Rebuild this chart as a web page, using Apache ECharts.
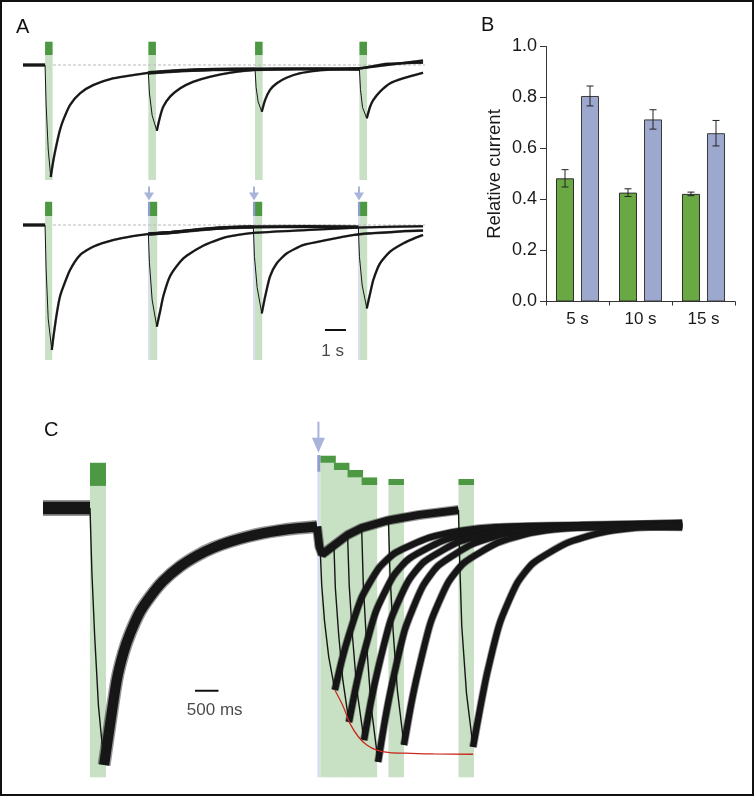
<!DOCTYPE html>
<html>
<head>
<meta charset="utf-8">
<script src="https://cdn.jsdelivr.net/npm/echarts@6/dist/echarts.min.js"></script>
<style>
html, body { margin: 0; padding: 0; background: #fff; }
#main { width: 754px; height: 796px; }
</style>
</head>
<body>
<div id="main"></div>
<script>
// ---------- panel A (time in s, current relative to first peak) ----------
var aTopPulseOn = [0, 4.92, 10, 14.97]
var aTopPulseDur = 0.36
var aTopShared = [[-1.05, 0], [0, 0], [0.05, -0.35], [0.15, -0.75], [0.27, -1.0], [0.40, -0.848], [0.56, -0.70], [0.71, -0.58], [0.87, -0.49], [1.19, -0.357], [1.67, -0.253], [2.30, -0.179], [3.25, -0.119], [4.21, -0.089], [4.92, -0.07]]
var aTop5 = [[4.92, -0.07], [4.97, -0.25], [5.1, -0.45], [5.32, -0.587], [5.48, -0.46], [5.63, -0.372], [5.95, -0.283], [6.43, -0.208], [7.06, -0.149], [7.86, -0.104], [8.81, -0.069], [10.0, -0.045], [12.0, -0.035], [14.97, -0.03], [16.3, 0.0], [18.0, 0.04]]
var aTop10 = [[4.92, -0.07], [6.5, -0.05], [8.0, -0.04], [10.0, -0.038], [10.05, -0.2], [10.15, -0.33], [10.32, -0.417], [10.48, -0.3125], [10.71, -0.223], [11.03, -0.164], [11.51, -0.113], [12.14, -0.074], [12.94, -0.051], [13.9, -0.038], [15.0, -0.03], [16.27, 0.01], [18.0, 0.02]]
var aTop15 = [[4.92, -0.07], [6.5, -0.05], [8.0, -0.04], [10.0, -0.036], [12.0, -0.034], [14.97, -0.038], [15.02, -0.22], [15.12, -0.38], [15.32, -0.476], [15.48, -0.372], [15.63, -0.3125], [15.95, -0.238], [16.43, -0.164], [17.06, -0.119], [18.0, -0.069]]

var aBotPulseOn = [0, 5, 10, 15]
var aBotPulseDur = 0.34
var aBotPrepulseOn = [4.9, 9.9, 14.9]
var aBotPrepulseDur = 0.1
var aBotShared = [[-1.05, 0], [0, 0], [0.05, -0.35], [0.15, -0.75], [0.32, -1.0], [0.40, -0.893], [0.56, -0.707], [0.71, -0.573], [0.87, -0.493], [1.19, -0.36], [1.67, -0.24], [2.30, -0.173], [3.25, -0.12], [4.21, -0.088], [4.92, -0.072]]
var aBot5 = [[4.92, -0.072], [4.97, -0.3], [5.1, -0.6], [5.32, -0.813], [5.48, -0.69], [5.63, -0.57], [5.95, -0.41], [6.43, -0.295], [6.75, -0.245], [7.54, -0.165], [8.33, -0.112], [8.81, -0.09], [10.0, -0.062], [12.5, -0.04], [15.0, -0.02], [18.0, -0.01]]
var aBot10 = [[4.92, -0.072], [6.0, -0.06], [7.5, -0.035], [8.81, -0.02], [9.92, -0.015], [9.97, -0.25], [10.1, -0.5], [10.32, -0.707], [10.48, -0.573], [10.71, -0.413], [11.03, -0.307], [11.51, -0.227], [12.3, -0.16], [13.41, -0.12], [14.68, -0.08], [15.48, -0.067], [17.86, -0.045], [18.0, -0.045]]
var aBot15 = [[4.92, -0.072], [6.0, -0.06], [7.5, -0.035], [8.81, -0.02], [10.0, -0.015], [12.5, -0.012], [14.92, -0.015], [14.97, -0.25], [15.1, -0.48], [15.32, -0.667], [15.48, -0.547], [15.63, -0.44], [15.95, -0.307], [16.43, -0.213], [17.06, -0.147], [17.7, -0.098], [18.0, -0.08]]

// ---------- panel B ----------
var bCategories = ['5 s', '10 s', '15 s']
var bGreen = [0.483, 0.427, 0.422]
var bGreenErr = [0.034, 0.015, 0.007]
var bBlue = [0.806, 0.714, 0.66]
var bBlueErr = [0.039, 0.038, 0.05]
var bTicks = [0, 0.2, 0.4, 0.6, 0.8, 1.0]

// ---------- panel C ----------
var cPulseOn = [0, 4.90, 5.19, 5.48, 5.78, 6.35, 7.84]
var cPulseDur = 0.33
var cPrepulseOn = 4.836
var cPrepulseDur = 0.064
var cShared = [[-1.0, 0], [0, 0], [0.04, -0.25], [0.1, -0.5], [0.18, -0.77], [0.30, -1.0], [0.43, -0.837], [0.57, -0.669], [0.71, -0.564], [0.85, -0.49], [1.06, -0.405], [1.28, -0.345], [1.55, -0.285], [1.91, -0.228], [2.28, -0.185], [2.62, -0.155], [2.98, -0.131], [3.34, -0.112], [3.68, -0.098], [4.04, -0.087], [4.40, -0.079], [4.83, -0.072]]
var cPre = [[4.83, -0.072], [4.88, -0.15], [4.94, -0.18], [5.19, -0.145], [5.48, -0.105], [5.78, -0.078], [6.35, -0.048], [7.0, -0.027], [7.84, -0.008]]
var cA = [[4.90, -0.17], [4.93, -0.30], [4.99, -0.44], [5.08, -0.58], [5.21, -0.708], [5.36, -0.591], [5.51, -0.494], [5.78, -0.348], [6.15, -0.233], [6.49, -0.175], [7.21, -0.116], [7.91, -0.088], [8.61, -0.074], [10.5, -0.066], [12.6, -0.06]]
var cB = [[5.19, -0.145], [5.22, -0.31], [5.29, -0.49], [5.38, -0.67], [5.51, -0.833], [5.66, -0.694], [5.81, -0.578], [6.08, -0.404], [6.45, -0.266], [6.79, -0.197], [7.51, -0.127], [8.21, -0.093], [8.91, -0.076], [10.5, -0.07], [12.6, -0.072]]
var cC = [[5.48, -0.105], [5.515, -0.30], [5.585, -0.50], [5.68, -0.71], [5.83, -0.903], [5.98, -0.751], [6.13, -0.625], [6.40, -0.435], [6.77, -0.285], [7.11, -0.209], [7.83, -0.133], [8.53, -0.096], [9.23, -0.078], [11.0, -0.066], [12.6, -0.058]]
var cD = [[5.78, -0.078], [5.815, -0.30], [5.885, -0.53], [5.98, -0.77], [6.13, -0.988], [6.28, -0.821], [6.43, -0.682], [6.70, -0.473], [7.07, -0.308], [7.41, -0.224], [8.13, -0.141], [8.83, -0.100], [9.53, -0.081], [11.0, -0.072], [12.6, -0.075]]
var cE = [[6.35, -0.048], [6.383, -0.26], [6.45, -0.48], [6.54, -0.71], [6.68, -0.922], [6.83, -0.767], [6.98, -0.638], [7.25, -0.444], [7.62, -0.290], [7.96, -0.213], [8.68, -0.135], [9.38, -0.097], [10.08, -0.08], [11.5, -0.07], [12.6, -0.064]]
var cF = [[7.84, -0.008], [7.865, -0.2], [7.91, -0.46], [8.01, -0.72], [8.15, -0.93], [8.30, -0.78], [8.45, -0.642], [8.72, -0.447], [9.09, -0.292], [9.43, -0.214], [10.15, -0.136], [10.85, -0.097], [11.55, -0.078], [12.6, -0.068]]
var cFit = [[5.21, -0.708], [5.39, -0.773], [5.53, -0.838], [5.71, -0.890], [5.89, -0.922], [6.10, -0.942], [6.38, -0.952], [6.70, -0.954], [7.31, -0.957], [8.15, -0.958]]

// scale bars: [start, length] in s, with their texts
var aScaleBar = [13.33, 1]
var aScaleText = '1 s'
var cScaleBar = [2.234, 0.5]
var cScaleText = '500 ms'

// ---------- layout / style ----------
var FONT = 'Liberation Sans, Arial, sans-serif'
var INK = '#161616'
var HALO = 'rgba(20,20,20,0.45)'
var LIGHT_GREEN = '#c8e0c4'
var DARK_GREEN = '#4d9843'
var LIGHT_BLUE = '#d9dfef'
var DARK_BLUE = '#8e9cd0'
var ARROW = '#93a1d2'

var myChart = echarts.init(document.getElementById('main'))

function rectItem(params, api) {
  var a = api.coord([api.value(0), api.value(3)])
  var b = api.coord([api.value(1), api.value(2)])
  return {
    type: 'rect',
    shape: { x: a[0], y: a[1], width: b[0] - a[0], height: b[1] - a[1] },
    style: { fill: api.visual('color') }
  }
}

function rects(rows, g, color) {
  return {
    type: 'custom', xAxisIndex: g, yAxisIndex: g, data: rows,
    renderItem: rectItem, itemStyle: { color: color },
    encode: { x: [0, 1], y: [2, 3] }, clip: false, silent: true, z: 1
  }
}

function line(data, g, width, color, z, smooth) {
  return {
    type: 'line', xAxisIndex: g, yAxisIndex: g, data: data,
    symbol: 'none', silent: true, z: z || 3,
    smooth: smooth || false,
    lineStyle: { width: width, color: color || INK }
  }
}

// noisy band: soft edge + dark core
function band(data, g, w, smooth) {
  var s = smooth === undefined ? 0.2 : smooth
  return [line(data, g, w, HALO, 3, s), line(data, g, Math.max(1.3, w * 0.78), INK, 3, s)]
}

// split a trace into baseline part, falling part and recovery part
function trace(data, onset, g, w) {
  var k = data.findIndex(function (p) { return p[0] >= onset - 0.03 })
  var m = k
  for (var i = k; i < data.length; i++) {
    if (data[i][1] < data[m][1]) m = i
  }
  var out = []
  if (k > 0) out = out.concat(band(data.slice(0, k + 1), g, w[0]))
  out.push(line(data.slice(k, m + 1), g, w[1]))
  out = out.concat(band(data.slice(m), g, w[2]))
  return out
}

var series = []

// stimulus bars, panel A top
series.push(rects(aTopPulseOn.map(function (t) { return [t, t + aTopPulseDur, -1.027, 0.089] }), 0, LIGHT_GREEN))
series.push(rects(aTopPulseOn.map(function (t) { return [t, t + aTopPulseDur, 0.089, 0.208] }), 0, DARK_GREEN))
// panel A bottom
series.push(rects(aBotPulseOn.map(function (t) { return [t, t + aBotPulseDur, -1.08, 0.072] }), 1, LIGHT_GREEN))
series.push(rects(aBotPrepulseOn.map(function (t) { return [t, t + aBotPrepulseDur, -1.08, 0.072] }), 1, LIGHT_BLUE))
series.push(rects(aBotPulseOn.map(function (t) { return [t, t + aBotPulseDur, 0.072, 0.186] }), 1, DARK_GREEN))
series.push(rects(aBotPrepulseOn.map(function (t) { return [t, t + aBotPrepulseDur, 0.072, 0.186] }), 1, DARK_BLUE))
// panel C
var cBarTop = [0.176, 0.2035, 0.176, 0.148, 0.119, 0.113, 0.113]
var cBarBot = [0.086, 0.176, 0.148, 0.119, 0.0895, 0.0895, 0.0895]
series.push(rects(cPulseOn.map(function (t, i) { return [t, t + (i === 0 ? 0.34 : cPulseDur), -1.048, cBarBot[i]] }), 3, LIGHT_GREEN))
series.push(rects([[cPrepulseOn, cPrepulseOn + cPrepulseDur, -1.048, 0.141]], 3, LIGHT_BLUE))
series.push(rects(cPulseOn.map(function (t, i) { return [t, t + (i === 0 ? 0.34 : cPulseDur), cBarBot[i], cBarTop[i]] }), 3, DARK_GREEN))
series.push(rects([[cPrepulseOn, cPrepulseOn + cPrepulseDur, 0.141, 0.206]], 3, DARK_BLUE))

// dashed baselines in A
;[0, 1].forEach(function (g) {
  series.push({
    type: 'line', xAxisIndex: g, yAxisIndex: g, data: [[0.38, 0], [18.1, 0]],
    symbol: 'none', silent: true, z: 2,
    lineStyle: { width: 1, color: '#b9b9b9', type: [3, 2] }
  })
})

// traces A top
var wA = [3.6, 1, 2.6]
series = series.concat(trace(aTopShared, 0, 0, wA))
series = series.concat(trace(aTop5, aTopPulseOn[1], 0, wA))
series = series.concat(trace(aTop10, aTopPulseOn[2], 0, wA))
series = series.concat(trace(aTop15, aTopPulseOn[3], 0, wA))
// traces A bottom
series = series.concat(trace(aBotShared, 0, 1, wA))
series = series.concat(trace(aBot5, aBotPrepulseOn[0], 1, wA))
series = series.concat(trace(aBot10, aBotPrepulseOn[1], 1, wA))
series = series.concat(trace(aBot15, aBotPrepulseOn[2], 1, wA))
// traces C
series = series.concat(trace(cShared, 0, 3, [16, 1.4, 13]))
series = series.concat(band(cPre, 3, 10, false))
;[cA, cB, cC, cD, cE, cF].forEach(function (d, i) {
  series = series.concat(trace(d, cPulseOn[i + 1], 3, [8, 1.4, 8]))
})
series.push(line(cFit, 3, 1.3, '#c8281e', 5, 0.3))

// arrows
series.push({
  type: 'scatter', xAxisIndex: 1, yAxisIndex: 1, silent: true, z: 6,
  data: aBotPrepulseOn.map(function (t) { return [t + aBotPrepulseDur / 2, 0.252] }),
  symbol: 'path://M4,0L6,0L6,6L10,6L5,14L0,6L4,6Z', symbolSize: [10, 14],
  itemStyle: { color: ARROW }
})
series.push({
  type: 'scatter', xAxisIndex: 3, yAxisIndex: 3, silent: true, z: 6,
  data: [[cPrepulseOn + 0.024, 0.2755]],
  symbol: 'path://M5.5,0L7.5,0L7.5,16L13,16L6.5,31L0,16L5.5,16Z', symbolSize: [13, 31],
  itemStyle: { color: ARROW }
})

// scale bars
series.push({
  type: 'line', xAxisIndex: 1, yAxisIndex: 1, silent: true, z: 6, symbol: 'none',
  data: [[aScaleBar[0], -0.84], [aScaleBar[0] + aScaleBar[1], -0.84]],
  lineStyle: { width: 2, color: '#111' }
})
series.push({
  type: 'scatter', xAxisIndex: 1, yAxisIndex: 1, silent: true, z: 6, symbolSize: 0,
  data: [[aScaleBar[0] + 0.36, -1.014]],
  label: { show: true, position: 'inside', formatter: aScaleText, fontSize: 17, color: '#1a1a1a', fontFamily: FONT }
})
series.push({
  type: 'line', xAxisIndex: 3, yAxisIndex: 3, silent: true, z: 6, symbol: 'none',
  data: [[cScaleBar[0], -0.711], [cScaleBar[0] + cScaleBar[1], -0.711]],
  lineStyle: { width: 2, color: '#111' }
})
series.push({
  type: 'scatter', xAxisIndex: 3, yAxisIndex: 3, silent: true, z: 6, symbolSize: 0,
  data: [[cScaleBar[0] + 0.42, -0.789]],
  label: { show: true, position: 'inside', formatter: cScaleText, fontSize: 17, color: '#1a1a1a', fontFamily: FONT }
})

// bar chart B
series.push({
  type: 'bar', xAxisIndex: 2, yAxisIndex: 2, data: bGreen,
  barWidth: 18, barGap: '39%', silent: true,
  itemStyle: { color: '#69a842', borderColor: '#2e2e2e', borderWidth: 1 }
})
series.push({
  type: 'bar', xAxisIndex: 2, yAxisIndex: 2, data: bBlue,
  barWidth: 18, barGap: '39%', silent: true,
  itemStyle: { color: '#9da8cf', borderColor: '#3a3a3a', borderWidth: 1 }
})

function errItem(offset) {
  return function (params, api) {
    var i = api.value(0), m = api.value(1), e = api.value(2)
    var hi = api.coord([i, m + e])
    var lo = api.coord([i, m - e])
    var x = hi[0] + offset
    var st = { stroke: '#222', lineWidth: 1 }
    return {
      type: 'group',
      children: [
        { type: 'line', shape: { x1: x, y1: hi[1], x2: x, y2: lo[1] }, style: st },
        { type: 'line', shape: { x1: x - 3.5, y1: hi[1], x2: x + 3.5, y2: hi[1] }, style: st },
        { type: 'line', shape: { x1: x - 3.5, y1: lo[1], x2: x + 3.5, y2: lo[1] }, style: st }
      ]
    }
  }
}
series.push({
  type: 'custom', xAxisIndex: 2, yAxisIndex: 2, silent: true, z: 5,
  data: bGreen.map(function (m, i) { return [i, m, bGreenErr[i]] }),
  renderItem: errItem(-12.5), encode: { x: 0, y: 1 }
})
series.push({
  type: 'custom', xAxisIndex: 2, yAxisIndex: 2, silent: true, z: 5,
  data: bBlue.map(function (m, i) { return [i, m, bBlueErr[i]] }),
  renderItem: errItem(12.5), encode: { x: 0, y: 1 }
})

function hiddenX(min, max, g) { return { type: 'value', gridIndex: g, min: min, max: max, show: false } }
function hiddenY(min, max, g) { return { type: 'value', gridIndex: g, min: min, max: max, show: false } }

myChart.setOption({
  animation: false,
  backgroundColor: '#fff',
  textStyle: { fontFamily: FONT },
  grid: [
    { left: 23, top: 37, width: 402.15, height: 145.6, outerBoundsMode: 'none' },
    { left: 23, top: 181.25, width: 402.15, height: 183.75, outerBoundsMode: 'none' },
    { left: 546, top: 46.5, width: 189, height: 255, outerBoundsMode: 'none' },
    { left: 43, top: 415.5, width: 639.2, height: 364.94, outerBoundsMode: 'none' }
  ],
  xAxis: [
    hiddenX(-1.05, 18.1, 0),
    hiddenX(-1.05, 18.1, 1),
    {
      type: 'category', gridIndex: 2, data: bCategories,
      axisLine: { show: true, lineStyle: { color: '#333', width: 1 } },
      axisTick: { show: true, length: 4, lineStyle: { color: '#333' } },
      axisLabel: { fontSize: 17, color: '#1a1a1a', margin: 9, fontFamily: FONT }
    },
    hiddenX(-1, 12.6, 3)
  ],
  yAxis: [
    hiddenY(-1.05, 0.25, 0),
    hiddenY(-1.12, 0.35, 1),
    {
      type: 'value', gridIndex: 2, min: bTicks[0], max: bTicks[bTicks.length - 1], interval: 0.2,
      name: 'Relative current', nameLocation: 'middle', nameGap: 42,
      nameTextStyle: { fontSize: 18.5, color: '#1a1a1a', fontFamily: FONT },
      axisLine: { show: true, lineStyle: { color: '#333', width: 1 } },
      axisTick: { show: true, length: 6, lineStyle: { color: '#333' } },
      splitLine: { show: false },
      axisLabel: { fontSize: 18, color: '#1a1a1a', margin: 9, fontFamily: FONT, formatter: function (v) { return v.toFixed(1) } }
    },
    hiddenY(-1.06, 0.36, 3)
  ],
  graphic: [
    { type: 'rect', shape: { x: 1, y: 1, width: 752, height: 794 }, style: { fill: 'none', stroke: '#111', lineWidth: 2 }, z: 100 },
    { type: 'text', x: 16, y: 27, style: { text: 'A', font: '20px ' + FONT, fill: '#111', verticalAlign: 'middle' } },
    { type: 'text', x: 481, y: 25, style: { text: 'B', font: '20px ' + FONT, fill: '#111', verticalAlign: 'middle' } },
    { type: 'text', x: 44, y: 430, style: { text: 'C', font: '20px ' + FONT, fill: '#111', verticalAlign: 'middle' } }
  ],
  series: series
})

window.addEventListener('resize', function () {
  myChart.resize()
})
</script>
</body>
</html>
